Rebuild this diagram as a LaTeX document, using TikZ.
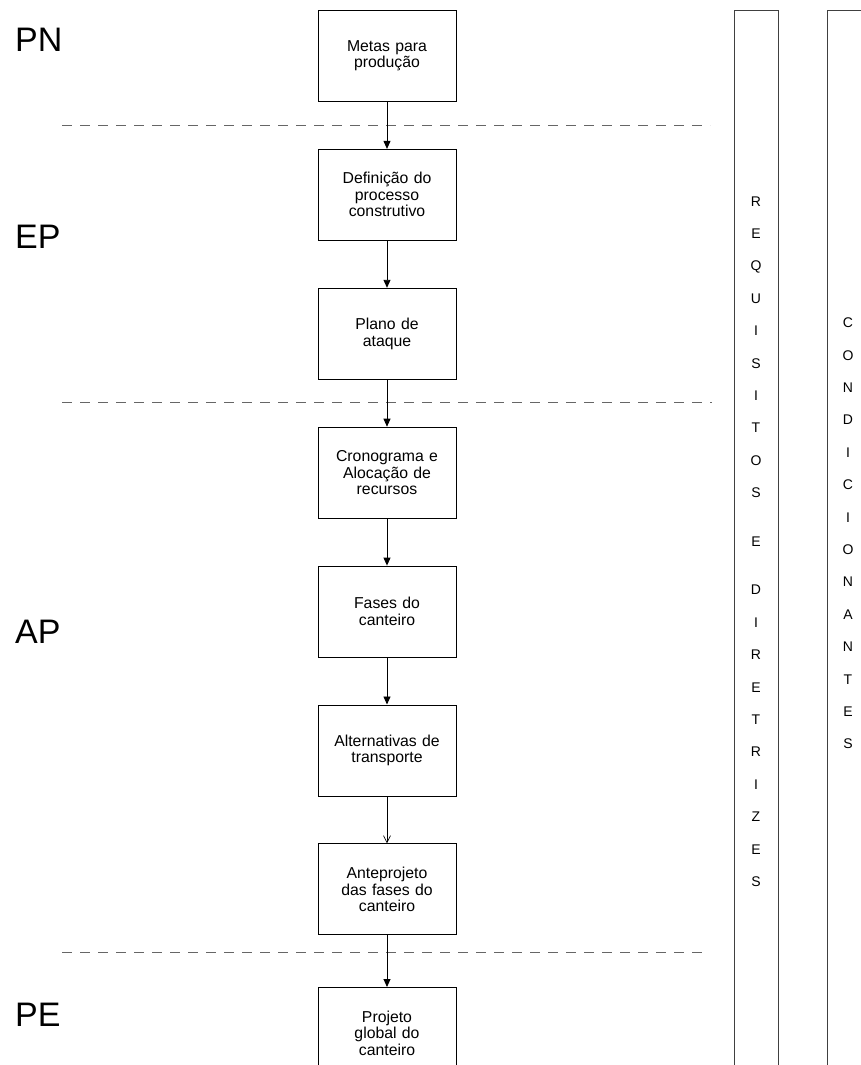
\documentclass[tikz,border=0pt]{standalone}
\usepackage{fontspec}
\setmainfont{Liberation Sans}
\usetikzlibrary{arrows.meta,positioning}
\tikzset{
  boxnode/.style={draw, rectangle, minimum width=138pt, minimum height=91pt, text width=124pt, align=center, line width=0.9pt, font=\fontsize{15.8}{16.5}\selectfont},
  arrow/.style={-{Triangle[length=8pt,width=7pt]}, line width=0.9pt},
  openarrow/.style={-{Straight Barb[length=7pt,width=7pt]}, line width=0.7pt},
  phase/.style={anchor=west, inner sep=0pt, font=\fontsize{34}{40}\selectfont},
  divider/.style={dash pattern=on 10pt off 8pt, line width=0.9pt, draw=black!60},
  column/.style={draw=black!75, line width=0.9pt},
  coltext/.style={align=center, inner sep=0pt, font=\fontsize{14}{32.4}\selectfont}
}

\begin{document}
\begin{tikzpicture}[x=1pt, y=-1pt, node distance=47pt]
  \useasboundingbox (0,0) rectangle (861,1065);
  \clip (0,0) rectangle (861,1065);

  % phases
  \node [phase] (pn) at (15,40) {PN};
  \node [phase] (ep) at (15,236.5) {EP};
  \node [phase] (ap) at (15,632) {AP};
  \node [phase] (pe) at (15,1015) {PE};

  \draw [divider] (62,125) -- (710,125);
  \draw [divider] (62,402) -- (712,402);
  \draw [divider] (62,952) -- (708,952);

  % flow
  \node [boxnode, anchor=north] (metas) at (387,10) {Metas para\\produção};
  \node [boxnode, below=of metas] (definicao) {Definição do\\processo\\construtivo};
  \node [boxnode, below=of definicao] (plano) {Plano de\\ataque};
  \node [boxnode, below=of plano] (cronograma) {Cronograma e\\Alocação de\\recursos};
  \node [boxnode, below=of cronograma] (fases) {Fases do\\canteiro};
  \node [boxnode, below=of fases] (alternativas) {Alternativas de\\transporte};
  \node [boxnode, below=of alternativas] (anteprojeto) {Anteprojeto\\das fases do\\canteiro};
  \node [boxnode, below=51.7pt of anteprojeto] (global) {Projeto\\global do\\canteiro};

  \draw [arrow] (metas) -- (definicao);
  \draw [arrow] (definicao) -- (plano);
  \draw [arrow] (plano) -- (cronograma);
  \draw [arrow] (cronograma) -- (fases);
  \draw [arrow] (fases) -- (alternativas);
  \draw [openarrow] (alternativas) -- (anteprojeto);
  \draw [arrow] (anteprojeto) -- (global);

  % side columns
  \draw [column] (734,1090) -- (734,10) -- (778,10) -- (778,1090);
  \draw [column] (827,1090) -- (827,10) -- (869,10) -- (869,1090);
  \node [coltext] (requisitos) at (756,541.5) {R\\E\\Q\\U\\I\\S\\I\\T\\O\\S\\[16.2pt]E\\[16.2pt]D\\I\\R\\E\\T\\R\\I\\Z\\E\\S};
  \node [coltext] (condicionantes) at (848,533.5) {C\\O\\N\\D\\I\\C\\I\\O\\N\\A\\N\\T\\E\\S};
\end{tikzpicture}
\end{document}
